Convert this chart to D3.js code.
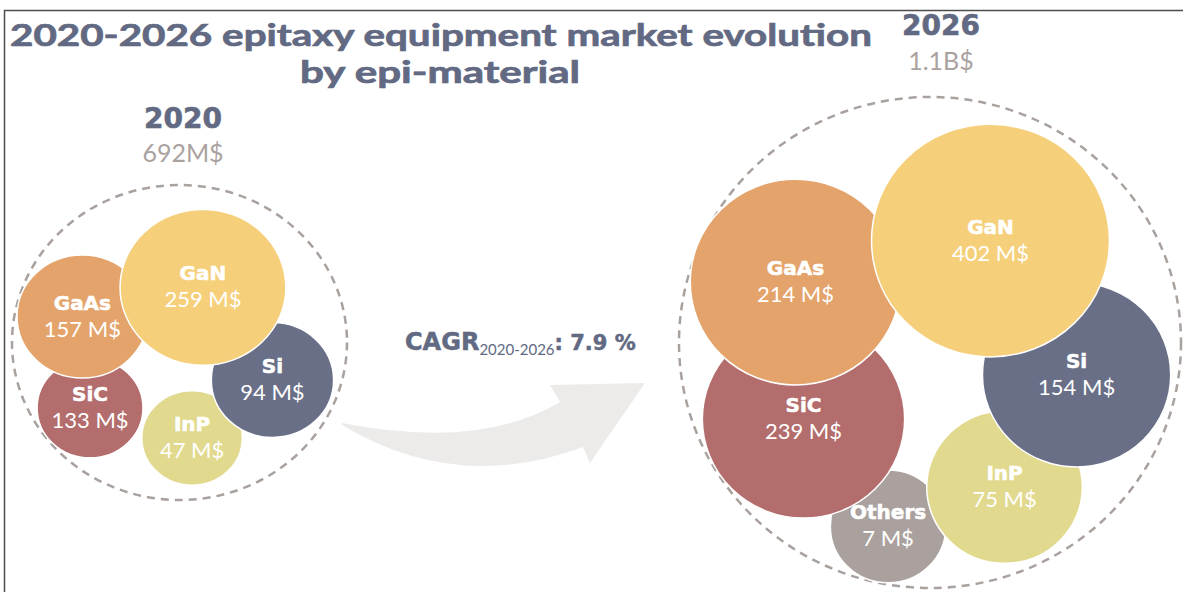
<!DOCTYPE html>
<html>
<head>
<meta charset="utf-8">
<script src="https://cdn.jsdelivr.net/npm/d3@7"></script>
<style>
  body { margin: 0; background: #fff; }
  svg { display: block; }
  text { font-family: Lato, "Open Sans", sans-serif; }
  .heavy { font-family: "DejaVu Sans", sans-serif; font-weight: bold; }
</style>
</head>
<body>
<div id="chart-area"></div>
<script>
// Market values by epi-material (M$), listed in drawing order (back to front)
const materials = ["Others", "InP", "Si", "SiC", "GaAs", "GaN"];
const values2020 = [null, 47, 94, 133, 157, 259];
const values2026 = [7, 75, 154, 239, 214, 402];
const colors = ["#aaa19e", "#e1d98e", "#696f87", "#b26d6c", "#e4a36b", "#f5cf7a"];

const years = ["2020", "2026"];
const totals = ["692M$", "1.1B$"];
const cagr = "7.9 %";

// hand layout of the bubbles inside each dashed ring: [u, v, r] in ring units (-1..1)
const layout2020 = [null, [0.075, 0.606, 0.30], [0.555, 0.238, 0.365], [-0.534, 0.416, 0.316], [-0.58, -0.165, 0.39], [0.14, -0.35, 0.495]];
const layout2026 = [[-0.167, 0.749, 0.23], [0.297, 0.589, 0.31], [0.584, 0.132, 0.375], [-0.504, 0.312, 0.403], [-0.536, -0.246, 0.419], [0.241, -0.415, 0.474]];

let width = 1183, height = 592;
let titleColor = "#626982";
let greyText = "#aaa29f";

let svg = d3.select("#chart-area").append("svg")
    .attr("width", width)
    .attr("height", height);

// frame
svg.append("path")
    .attr("d", "M4.5," + height + " L4.5,10.5 L" + width + ",10.5")
    .attr("fill", "none")
    .attr("stroke", "#4d4d4d")
    .attr("stroke-width", 1.5);

// Title
let title = svg.append("g")
    .attr("fill", titleColor)
    .attr("stroke", titleColor)
    .attr("stroke-width", 0.7)
    .attr("class", "heavy");
title.append("text")
    .attr("x", 441).attr("y", 46)
    .attr("text-anchor", "middle")
    .attr("textLength", 862)
    .attr("lengthAdjust", "spacingAndGlyphs")
    .style("font-size", "30px")
    .text("2020-2026 epitaxy equipment market evolution");
title.append("text")
    .attr("x", 440).attr("y", 83)
    .attr("text-anchor", "middle")
    .attr("textLength", 280)
    .attr("lengthAdjust", "spacingAndGlyphs")
    .style("font-size", "30px")
    .text("by epi-material");

// Arrow between the two years
svg.append("path")
    .attr("d", "M342,423 Q480,450 560,402 L550,385 L645,383 L590,463 L583,447 Q457,494 342,425 Z")
    .attr("fill", "#edebea");

let cagrText = svg.append("text")
    .attr("x", 405).attr("y", 350)
    .attr("fill", titleColor);
cagrText.append("tspan").attr("class", "heavy").attr("stroke", titleColor).attr("stroke-width", 0.5)
    .style("font-size", "24px").text("CAGR");
cagrText.append("tspan").attr("dy", 5).style("font-size", "15px").text("2020-2026");
cagrText.append("tspan").attr("dy", -5).attr("class", "heavy").attr("stroke", titleColor).attr("stroke-width", 0.5)
    .style("font-size", "21px").text(": " + cagr);

let panels = [
    {year: years[0], total: totals[0], values: values2020, layout: layout2020,
        ring: [12, 347, 185, 500], head: [183, 128, 162]},
    {year: years[1], total: totals[1], values: values2026, layout: layout2026,
        ring: [679, 1181, 97, 588], head: [941, 35, 70]}
];

panels.forEach(p => {
    let x = d3.scaleLinear().domain([-1, 1]).range([p.ring[0], p.ring[1]]);
    let y = d3.scaleLinear().domain([-1, 1]).range([p.ring[2], p.ring[3]]);

    let g = svg.append("g");

    g.append("text")
        .attr("x", p.head[0]).attr("y", p.head[1])
        .attr("text-anchor", "middle")
        .attr("fill", titleColor)
        .attr("stroke", titleColor)
        .attr("stroke-width", 0.6)
        .attr("class", "heavy")
        .style("font-size", "28px")
        .text(p.year);
    g.append("text")
        .attr("x", p.head[0]).attr("y", p.head[2])
        .attr("text-anchor", "middle")
        .attr("fill", greyText)
        .style("font-size", "25px")
        .text(p.total);

    g.append("ellipse")
        .attr("cx", x(0)).attr("cy", y(0))
        .attr("rx", x(1) - x(0)).attr("ry", y(1) - y(0))
        .attr("fill", "none")
        .attr("stroke", "#a9a19e")
        .attr("stroke-width", 2.5)
        .attr("stroke-dasharray", "8,6");

    let data = materials.map((m, i) => ({
        name: m, value: p.values[i], color: colors[i], pos: p.layout[i]
    })).filter(d => d.value != null);

    g.selectAll("ellipse.bubble")
        .data(data)
        .enter()
        .append("ellipse")
        .attr("class", "bubble")
        .attr("cx", d => x(d.pos[0]))
        .attr("cy", d => y(d.pos[1]))
        .attr("rx", d => x(d.pos[2]) - x(0))
        .attr("ry", d => y(d.pos[2]) - y(0))
        .attr("fill", d => d.color)
        .attr("stroke", "#fff")
        .attr("stroke-width", 1.5);

    let labels = g.selectAll("g.label")
        .data(data)
        .enter()
        .append("g")
        .attr("class", "label")
        .attr("transform", d => "translate(" + x(d.pos[0]) + "," + y(d.pos[1]) + ")")
        .attr("fill", "#fff")
        .attr("text-anchor", "middle");

    labels.append("text")
        .attr("y", -7)
        .attr("class", "heavy")
        .attr("stroke", "#fff")
        .attr("stroke-width", 0.6)
        .style("font-size", "20px")
        .text(d => d.name);

    labels.append("text")
        .attr("y", 20)
        .style("font-size", "22px")
        .text(d => d.value + " M$");
});
</script>
</body>
</html>
